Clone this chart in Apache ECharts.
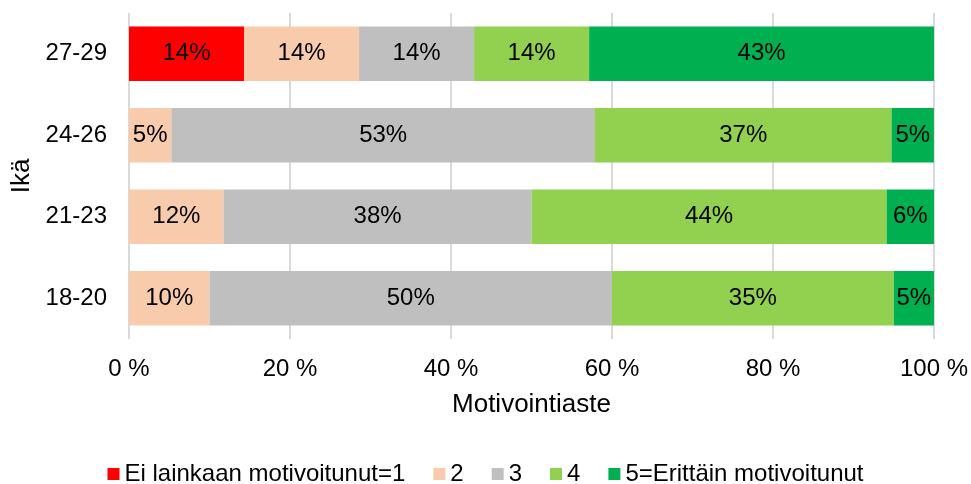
<!DOCTYPE html>
<html>
<head>
<meta charset="utf-8">
<script src="https://cdn.jsdelivr.net/npm/echarts@6/dist/echarts.min.js"></script>
<style>html,body{margin:0;padding:0;background:#fff;}#c{width:971px;height:484px;}</style>
</head>
<body>
<div id="c"></div>
<script>
const categories = ['18-20', '21-23', '24-26', '27-29'];
const seriesNames = ['Ei lainkaan motivoitunut=1', '2', '3', '4', '5=Erittäin motivoitunut'];
// percent values per age group (bottom to top)
const s1 = [null, null, null, 14.29];
const s2 = [10, 11.76, 5.26, 14.29];
const s3 = [50, 38.24, 52.63, 14.29];
const s4 = [35, 44.12, 36.84, 14.29];
const s5 = [5, 5.88, 5.26, 42.86];
const xTicks = [0, 20, 40, 60, 80, 100];
const colors = ['#FF0000', '#F8CBAD', '#BFBFBF', '#92D050', '#00B050'];

const FONT = 'Liberation Sans, Arial, sans-serif';
const allData = [s1, s2, s3, s4, s5];
const chart = echarts.init(document.getElementById('c'), null, {renderer: 'canvas'});
chart.setOption({
  animation: false,
  color: colors,
  textStyle: {fontFamily: FONT},
  grid: {left: 129, right: 34, top: 13, bottom: 145},
  legend: {
    top: 457,
    left: 'center',
    icon: 'rect',
    itemWidth: 12,
    itemHeight: 12,
    itemGap: 28,
    textStyle: {fontSize: 24, color: '#000', fontFamily: FONT},
    data: seriesNames
  },
  xAxis: {
    type: 'value',
    min: xTicks[0],
    max: xTicks[xTicks.length - 1],
    interval: xTicks[1] - xTicks[0],
    name: 'Motivointiaste',
    nameLocation: 'middle',
    nameGap: 53,
    nameTextStyle: {fontSize: 26, color: '#000', fontFamily: FONT},
    axisLine: {show: false},
    axisTick: {show: false},
    axisLabel: {fontSize: 24, color: '#000', margin: 18, formatter: '{value} %', fontFamily: FONT},
    splitLine: {show: true, lineStyle: {color: '#D9D9D9', width: 2}}
  },
  yAxis: {
    type: 'category',
    data: categories,
    name: 'Ikä',
    nameLocation: 'middle',
    nameGap: 91,
    nameRotate: 90,
    nameTextStyle: {fontSize: 26, color: '#000', fontFamily: FONT},
    axisLine: {show: false},
    axisTick: {show: false},
    axisLabel: {fontSize: 24, color: '#000', margin: 22, fontFamily: FONT}
  },
  series: seriesNames.map((n, i) => ({
    name: n,
    type: 'bar',
    stack: 'total',
    barWidth: '67%',
    data: allData[i],
    label: {
      show: true,
      position: 'inside',
      color: '#000',
      fontSize: 24,
      fontFamily: FONT,
      formatter: p => Math.round(p.value) + '%'
    }
  }))
});
</script>
</body>
</html>
